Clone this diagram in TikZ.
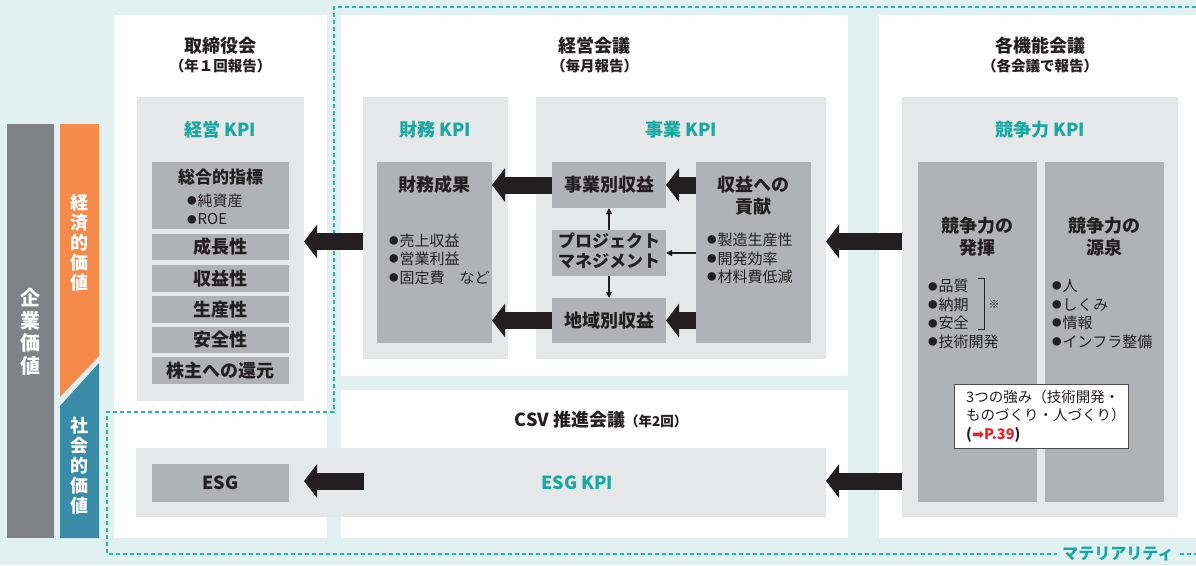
\documentclass[tikz,border=0pt]{standalone}
\usepackage{fontspec}
\setmainfont{Noto Sans CJK JP}
\newfontfamily\dejavu{DejaVu Sans}
\usetikzlibrary{arrows.meta}
\definecolor{bg}{HTML}{E1F1F1}
\definecolor{lgray}{HTML}{E6E7E8}
\definecolor{dgray}{HTML}{B1B2B5}
\definecolor{ink}{HTML}{231F20}
\definecolor{tealc}{HTML}{17A9A1}
\definecolor{dashc}{HTML}{2BB5B0}
\definecolor{graybar}{HTML}{808285}
\definecolor{orangebar}{HTML}{F58A4B}
\definecolor{bluebar}{HTML}{3A8BA8}
\definecolor{redc}{HTML}{E8202A}
\newcommand\fsz[2]{\fontsize{#1}{#2}\selectfont}
\newcommand\bu{\makebox[10.5pt][l]{\raisebox{1.8pt}{\fsz{9.5}{9}●}}}
% style, name, x1, y1, x2, y2, text
\newcommand\bxt[7]{\node[#1, minimum width={(#5-#3)*1pt}, minimum height={(#6-#4)*1pt}] (#2) at ({(#3+#5)/2},{(#4+#6)/2}) {#7};}
\tikzset{
  panel/.style={fill=white, inner sep=0pt, outer sep=0pt},
  lbox/.style={fill=lgray, inner sep=0pt, outer sep=0pt},
  dbox/.style={fill=dgray, inner sep=0pt, outer sep=0pt, text=ink, font=\bfseries\fsz{18}{21}},
  kpi/.style={text=tealc, font=\bfseries\fsz{18}{21}},
  ttl/.style={text=ink, font=\bfseries\fsz{18}{22}, align=center},
  hdr/.style={text=ink, font=\bfseries\fsz{18}{21}, align=center},
  subhdr/.style={text=ink, font=\bfseries\fsz{14.5}{17}},
  bl/.style={text=ink, font=\fsz{15}{18.5}, align=left, anchor=west, inner sep=0pt},
  blk/.style={draw=ink, line width=17pt, -{Triangle[length=13pt,width=33pt]}},
  thinarr/.style={draw=ink, line width=1.3pt, -{Triangle[length=6pt,width=6pt]}},
  vtxt/.style={text=white, font=\bfseries\fsz{18}{20}, align=center, inner sep=0pt},
}
\begin{document}
\begin{tikzpicture}[x=1pt,y=-1pt]
\useasboundingbox (0,0) rectangle (1196,565);
\fill[bg] (0,0) rectangle (1196,565);

% left value bars
\fill[graybar] (7,124) rectangle (54,538);
\fill[orangebar] (60,124) -- (99,124) -- (99,356) -- (60,397) -- cycle;
\fill[bluebar] (60,406) -- (99,363) -- (99,538) -- (60,538) -- cycle;
\node[vtxt, font=\bfseries\fsz{20}{22.5}] (kigyo) at (30.5,332) {企\\業\\価\\値};
\node[vtxt] (keizai) at (79.5,243) {経\\済\\的\\価\\値};
\node[vtxt] (shakai) at (79.5,466) {社\\会\\的\\価\\値};

% white panels
\bxt{panel}{p1}{114}{15}{327}{538}{}
\bxt{panel}{p2}{341}{15}{848}{376}{}
\bxt{panel}{p3}{341}{390}{848}{538}{}
\bxt{panel}{p4}{879}{15}{1196}{538}{}

% materiality dashed boundary
\draw[dashc, line width=1.2pt, dash pattern=on 4pt off 3pt]
  (1196,7) -- (334,7) -- (334,412) -- (107,412) -- (107,554) -- (1196,554);
\node[fill=bg, text=tealc, font=\bfseries\fsz{16}{18}, inner xsep=5pt, inner ysep=1pt] (mat) at (1118,554) {マテリアリティ};

% headers
\node[hdr] (h1) at (220.5,46) {取締役会};
\node[subhdr] (h1s) at (220.5,66) {（年１回報告）};
\node[hdr] (h2) at (594.5,46) {経営会議};
\node[subhdr] (h2s) at (594.5,66) {（毎月報告）};
\node[hdr] (h4) at (1040,46) {各機能会議};
\node[subhdr] (h4s) at (1040,66) {（各会議で報告）};
\node[hdr] (h3) at (601,420) {CSV 推進会議{\fsz{13.5}{16}（年2回）}};

% light KPI boxes
\bxt{lbox}{keieiKPI}{137}{97}{304}{401}{}
\bxt{lbox}{zaimuKPI}{363}{97}{508}{359}{}
\bxt{lbox}{jigyoKPI}{536}{97}{826}{359}{}
\bxt{lbox}{kyosoKPI}{902}{97}{1178}{517}{}
\bxt{lbox}{esgKPI}{136}{448}{826}{517}{}
\node[kpi] (t1) at (220.5,130) {経営 KPI};
\node[kpi] (t2) at (435.5,130) {財務 KPI};
\node[kpi] (t3) at (681,130) {事業 KPI};
\node[kpi] (t4) at (1040,130) {競争力 KPI};
\node[kpi] (t5) at (577,483) {ESG KPI};

% management KPI items
\bxt{dbox}{sogo}{152}{162}{289}{229}{}
\node[ttl, font=\bfseries\fsz{17}{20}] (sogoT) at (220.5,177) {総合的指標};
\node[bl] (sogoB) at (187,209.5) {\bu 純資産\\\bu ROE};
\bxt{dbox}{seicho}{152}{234}{289}{260}{成長性}
\bxt{dbox}{shueki}{152}{265}{289}{292}{収益性}
\bxt{dbox}{seisan}{152}{296}{289}{323}{生産性}
\bxt{dbox}{anzen}{152}{327}{289}{353}{安全性}
\bxt{dbox}{kabu}{152}{357}{289}{384}{株主への還元}
\bxt{dbox}{esg}{152}{464}{289}{502}{ESG}

% financial KPI
\bxt{dbox}{seika}{377}{162}{492}{343}{}
\node[ttl] (seikaT) at (434.5,185) {財務成果};
\node[bl] (seikaB) at (389,259) {\bu 売上収益\\\bu 営業利益\\\bu 固定費　など};

% business KPI
\bxt{dbox}{jbetsu}{552}{162}{666}{208}{事業別収益}
\bxt{dbox}{pm}{552}{230}{666}{276}{\begin{tabular}{@{}c@{}}\fsz{17}{17}プロジェクト\\[-1pt]\fsz{17}{17}マネジメント\end{tabular}}
\bxt{dbox}{chiiki}{552}{298}{666}{343}{地域別収益}
\bxt{dbox}{kouken}{696}{162}{811}{343}{}
\node[ttl] (koukenT) at (753.5,196) {収益への\\貢献};
\node[bl] (koukenB) at (707,258.5) {\bu 製造生産性\\\bu 開発効率\\\bu 材料費低減};

% competitiveness KPI
\bxt{dbox}{hakki}{918}{162}{1037}{502}{}
\bxt{dbox}{gensen}{1045}{162}{1164}{502}{}
\node[ttl] (hakkiT) at (977.5,237) {競争力の\\発揮};
\node[ttl] (gensenT) at (1104.5,237) {競争力の\\源泉};
\node[bl] (hakkiB) at (928,314) {\bu 品質\\\bu 納期\\\bu 安全\\\bu 技術開発};
\node[bl] (gensenB) at (1052,314) {\bu 人\\\bu しくみ\\\bu 情報\\\bu インフラ整備};
\draw[ink, line width=0.8pt] (978,278) -- (984,278) -- (984,329) -- (978,329);
\node[text=ink, font=\fsz{11}{12}, inner sep=0pt] (kome) at (994,304) {※};

% callout
\node[fill=white, draw=ink!80, line width=0.8pt, inner sep=0pt, minimum width=174pt, minimum height=64pt] (note) at (1041,416) {};
\node[text=ink, font=\fsz{14.5}{18.5}, align=left, anchor=west, inner sep=0pt] (noteT) at (966,416)
  {3つの強み（技術開発・\\ものづくり・人づくり）\\{\bfseries(}{\color{redc}\dejavu\bfseries ➡}{\bfseries\color{redc}P.39}{\bfseries)}};

% block arrows
\coordinate (esgsrc) at (364,481);
\draw[blk] (zaimuKPI.west |- 0,241.5) -- (keieiKPI.east |- 0,241.5);
\draw[blk] (jbetsu.west) -- (seika.east |- jbetsu.west);
\draw[blk] (chiiki.west) -- (seika.east |- chiiki.west);
\draw[blk] (kouken.west |- jbetsu.west) -- (jbetsu.east);
\draw[blk] (kouken.west |- chiiki.west) -- (chiiki.east);
\draw[blk] (kyosoKPI.west |- 0,241.5) -- (jigyoKPI.east |- 0,241.5);
\draw[blk] (kyosoKPI.west |- 0,481) -- (esgKPI.east |- 0,481);
\draw[blk, shorten >=15pt] (esgsrc) -- (esg.east |- esgsrc);

% thin arrows
\draw[thinarr] (pm.north) -- (jbetsu.south);
\draw[thinarr] (pm.south) -- (chiiki.north);
\draw[thinarr] (kouken.west |- 0,253) -- (pm.east |- 0,253);
\end{tikzpicture}
\end{document}
